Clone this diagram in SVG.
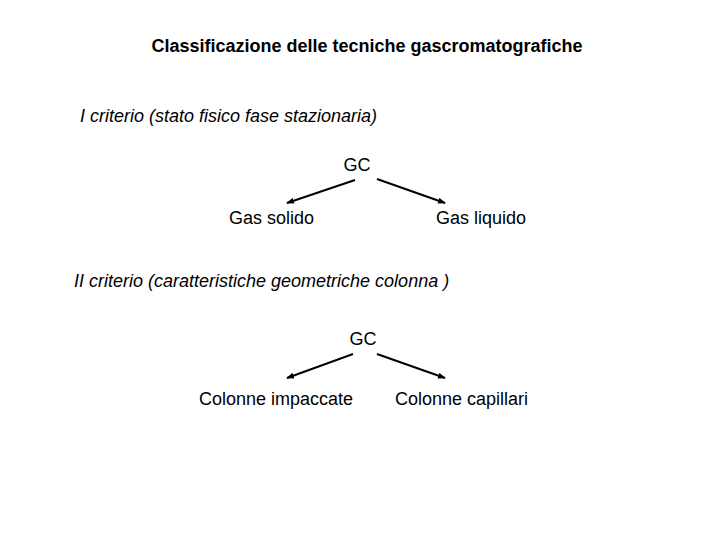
<svg xmlns="http://www.w3.org/2000/svg" width="720" height="540" viewBox="0 0 720 540">
<defs>
<style>
text{font-family:"Liberation Sans",Arial,sans-serif;font-size:18px;fill:#000}
.title{font-weight:bold;font-size:18px}
.it{font-style:italic}
.c line{stroke:#000;stroke-width:2;marker-end:url(#ah)}
</style>
<marker id="ah" markerWidth="8" markerHeight="6" refX="7" refY="3" orient="auto" markerUnits="userSpaceOnUse">
<path d="M0,0 L8,3 L0,6 Z" fill="#000"/>
</marker>
</defs>
<rect width="720" height="540" fill="#fff"/>
<g id="title"><text class="title" x="367" y="52" text-anchor="middle">Classificazione delle tecniche gascromatografiche</text></g>
<g id="crit1"><text class="it" x="80" y="122">I criterio (stato fisico fase stazionaria)</text></g>
<g id="gc1"><text x="357" y="171" text-anchor="middle">GC</text></g>
<g id="gassolido"><text x="229" y="224">Gas solido</text></g>
<g id="gasliquido"><text x="436" y="224">Gas liquido</text></g>
<g id="crit2"><text class="it" x="74" y="287">II criterio (caratteristiche geometriche colonna )</text></g>
<g id="gc2"><text x="363" y="345" text-anchor="middle">GC</text></g>
<g id="impaccate"><text x="199" y="405">Colonne impaccate</text></g>
<g id="capillari"><text x="395" y="405">Colonne capillari</text></g>
<g class="c" id="connectors">
<line x1="355" y1="180" x2="287" y2="203"/>
<line x1="377" y1="179" x2="445" y2="203"/>
<line x1="353" y1="354" x2="287" y2="378"/>
<line x1="377" y1="354" x2="445" y2="378"/>
</g>
</svg>
